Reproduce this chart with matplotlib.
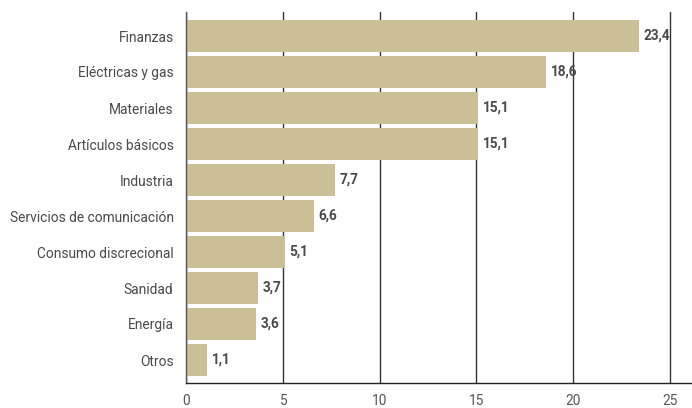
import matplotlib
matplotlib.use("Agg")
import matplotlib.pyplot as plt

categories = ["Finanzas", "Eléctricas y gas", "Materiales", "Artículos básicos", "Industria",
              "Servicios de comunicación", "Consumo discrecional", "Sanidad", "Energía", "Otros"]
values = [23.4, 18.6, 15.1, 15.1, 7.7, 6.6, 5.1, 3.7, 3.6, 1.1]
xticks = [0, 5, 10, 15, 20, 25]

plt.rcParams['font.family'] = ['Roboto', 'DejaVu Sans']

fig = plt.figure(figsize=(6.92, 4.08), dpi=100)
W, H = 692, 408
ax = fig.add_axes([186 / W, 1 - 383 / H, (692 - 186) / W, (383 - 12) / H])

y = list(range(len(categories)))
ax.barh(y, values, height=0.89, color="#CBBF97", zorder=2)
for yi, v in zip(y, values):
    ax.text(v + 0.25, yi, f"{v:.1f}".replace(".", ","), va="center", ha="left",
            fontsize=9.8, fontweight="bold", color="#4a4a4a", zorder=1)

ax.set_xlim(0, (692 - 186) / (96.8 / 5))
ax.set_ylim(9 + 23 / 36, -24 / 36)
ax.set_xticks(xticks)
ax.set_xticklabels([str(t) for t in xticks])
ax.set_yticks(y)
ax.set_yticklabels(categories)
ax.tick_params(axis="y", length=0, pad=9, labelsize=9.9, labelcolor="#4a4a4a")
ax.tick_params(axis="x", length=0, pad=8, labelsize=9.9, labelcolor="#555555")
ax.grid(axis="x", color="#333333", linewidth=1.0, zorder=0)
ax.set_axisbelow(True)
for s in ["top", "right"]:
    ax.spines[s].set_visible(False)
ax.spines["left"].set_color("#555555")
ax.spines["left"].set_linewidth(1.0)
ax.spines["bottom"].set_color("#222222")
ax.spines["bottom"].set_linewidth(1.0)

fig.savefig("out.png", dpi=100)
